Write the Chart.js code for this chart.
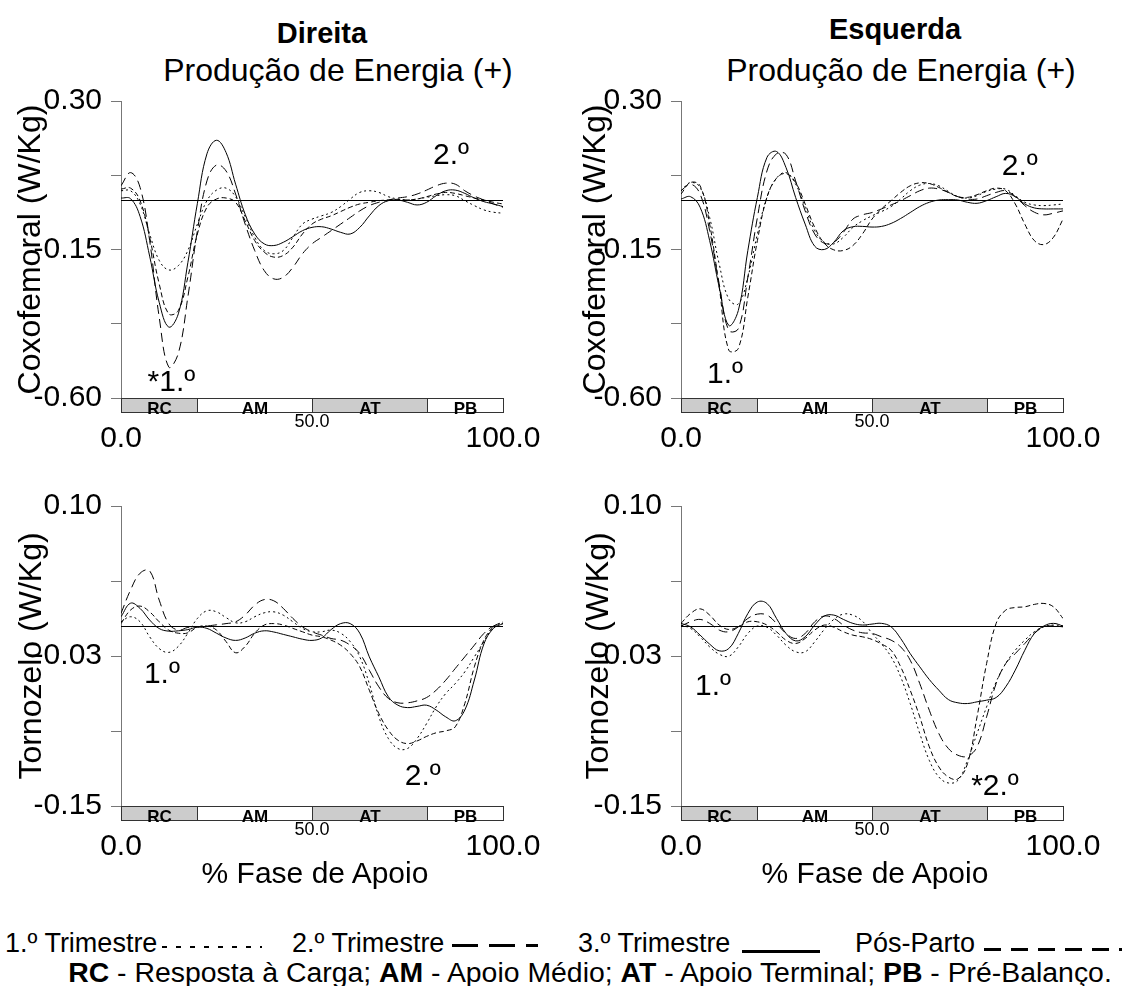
<!DOCTYPE html>
<html>
<head>
<meta charset="utf-8">
<script src="https://cdn.jsdelivr.net/npm/chart.js@4.4.1/dist/chart.umd.min.js"></script>
<style>
  body { margin: 0; background: #fff; }
  #page { position: relative; width: 1127px; height: 986px; overflow: hidden; font-family: 'Liberation Sans', Arial, sans-serif; color: #000; }
  .panel { position: absolute; }
  .txt { position: absolute; white-space: nowrap; line-height: 1; transform: translate(-50%, -50%); }
  .leg { position: absolute; white-space: nowrap; line-height: 1; transform: translateY(-50%); font-size: 27px; }
  .sample { position: absolute; }
</style>
</head>
<body>
<div id="page">
  <div class="txt" style="left:322px;top:33px;font-size:29px;font-weight:bold;">Direita</div>
  <div class="txt" style="left:895px;top:29px;font-size:29px;font-weight:bold;">Esquerda</div>
  <div class="txt" style="left:338px;top:70px;font-size:32px;">Produção de Energia (+)</div>
  <div class="txt" style="left:901px;top:70px;font-size:32px;">Produção de Energia (+)</div>

  <div class="panel" style="left:0;top:60px;"><canvas id="hipRight" width="560" height="400"></canvas></div>
  <div class="panel" style="left:560px;top:60px;"><canvas id="hipLeft" width="567" height="400"></canvas></div>
  <div class="panel" style="left:0;top:466px;"><canvas id="ankleRight" width="560" height="400"></canvas></div>
  <div class="panel" style="left:560px;top:466px;"><canvas id="ankleLeft" width="567" height="400"></canvas></div>

  <div class="txt" style="left:315px;top:873px;font-size:30px;">% Fase de Apoio</div>
  <div class="txt" style="left:875px;top:873px;font-size:30px;">% Fase de Apoio</div>

  <div class="leg" style="left:5px;top:943px;">1.º Trimestre</div>
  <div class="sample" style="left:162px;top:946px;width:100px;height:2px;background:repeating-linear-gradient(90deg,#000 0 5px,transparent 5px 14px);"></div>
  <div class="leg" style="left:292px;top:943px;">2.º Trimestre</div>
  <div class="sample" style="left:452px;top:944px;width:86px;height:3px;background:repeating-linear-gradient(90deg,#000 0 26px,transparent 26px 37px);"></div>
  <div class="leg" style="left:578px;top:943px;">3.º Trimestre</div>
  <div class="sample" style="left:742px;top:950px;width:78px;height:3px;background:#000;"></div>
  <div class="leg" style="left:855px;top:943px;">Pós-Parto</div>
  <div class="sample" style="left:984px;top:948px;width:138px;height:3px;background:repeating-linear-gradient(90deg,#000 0 17px,transparent 17px 27px);"></div>

  <div class="txt" style="left:590px;top:972px;font-size:28.4px;"><b>RC</b> - Resposta à Carga; <b>AM</b> - Apoio Médio; <b>AT</b> - Apoio Terminal; <b>PB</b> - Pré-Balanço.</div>
</div>

<script>
// % of stance phase
const stancePercent = [0, 2.5, 5, 7.5, 10, 12.5, 15, 17.5, 20, 22.5, 25, 27.5, 30, 32.5, 35, 37.5, 40, 42.5, 45, 47.5,
  50, 52.5, 55, 57.5, 60, 62.5, 65, 67.5, 70, 72.5, 75, 77.5, 80, 82.5, 85, 87.5, 90, 92.5, 95, 97.5, 100];

const seriesNames = ['1.º Trimestre', '2.º Trimestre', '3.º Trimestre', 'Pós-Parto'];

// hip (coxofemoral) power, right side
const hipRightT1 = [0.028, 0.028, -0.012, -0.103, -0.183, -0.212, -0.199, -0.153, -0.073, -0.002, 0.030, 0.036, 0.010, -0.050, -0.113, -0.153, -0.163, -0.153, -0.113, -0.073,
  -0.058, -0.048, -0.038, -0.020, 0.003, 0.023, 0.028, 0.023, 0.010, 0.003, 0.000, 0.003, 0.008, 0.013, 0.016, 0.013, -0.002, -0.017, -0.030, -0.037, -0.040];
const hipRightT2 = [0.043, 0.083, 0.038, -0.123, -0.355, -0.506, -0.465, -0.294, -0.093, 0.058, 0.106, 0.088, 0.018, -0.073, -0.153, -0.214, -0.239, -0.234, -0.204, -0.163,
  -0.133, -0.113, -0.093, -0.073, -0.053, -0.033, -0.017, -0.007, 0.000, 0.006, 0.010, 0.018, 0.030, 0.043, 0.051, 0.048, 0.028, 0.012, 0.000, -0.012, -0.022];
const hipRightT3 = [0.006, 0.004, -0.050, -0.170, -0.310, -0.385, -0.345, -0.190, -0.010, 0.140, 0.181, 0.144, 0.048, -0.043, -0.103, -0.133, -0.138, -0.128, -0.111, -0.093,
  -0.083, -0.081, -0.088, -0.098, -0.103, -0.083, -0.048, -0.017, -0.002, 0.000, -0.007, -0.015, -0.007, 0.013, 0.028, 0.030, 0.020, 0.006, -0.005, -0.012, -0.020];
const hipRightPP = [0.033, 0.036, -0.002, -0.113, -0.254, -0.345, -0.335, -0.234, -0.103, -0.022, 0.003, 0.006, -0.007, -0.063, -0.123, -0.158, -0.173, -0.168, -0.143, -0.103,
  -0.073, -0.058, -0.048, -0.035, -0.022, -0.012, -0.007, -0.002, 0.000, 0.002, 0.000, 0.003, 0.010, 0.018, 0.023, 0.020, 0.013, 0.006, 0.000, -0.007, -0.012];

// hip (coxofemoral) power, left side
const hipLeftT1 = [0.028, 0.053, 0.038, -0.053, -0.194, -0.300, -0.315, -0.234, -0.103, 0.008, 0.066, 0.083, 0.048, -0.022, -0.093, -0.128, -0.133, -0.113, -0.083, -0.063,
  -0.048, -0.035, -0.020, 0.003, 0.028, 0.045, 0.050, 0.043, 0.026, 0.010, 0.006, 0.013, 0.026, 0.033, 0.033, 0.013, -0.007, -0.015, -0.017, -0.015, -0.012];
const hipLeftT2 = [0.028, 0.048, 0.018, -0.093, -0.254, -0.395, -0.390, -0.234, -0.053, 0.088, 0.140, 0.138, 0.058, -0.033, -0.103, -0.131, -0.128, -0.098, -0.058, -0.045,
  -0.038, -0.027, -0.015, -0.002, 0.013, 0.028, 0.036, 0.033, 0.023, 0.010, 0.003, 0.003, 0.013, 0.023, 0.028, 0.010, -0.017, -0.037, -0.045, -0.040, -0.033];
const hipLeftT3 = [0.003, 0.010, -0.022, -0.123, -0.264, -0.380, -0.335, -0.153, 0.008, 0.129, 0.147, 0.098, 0.008, -0.073, -0.140, -0.150, -0.128, -0.093, -0.081, -0.080,
  -0.082, -0.080, -0.071, -0.056, -0.038, -0.020, -0.007, 0.000, 0.001, 0.000, -0.007, -0.010, -0.002, 0.010, 0.020, 0.010, -0.012, -0.024, -0.027, -0.027, -0.027];
const hipLeftPP = [0.018, 0.053, 0.043, -0.073, -0.264, -0.455, -0.450, -0.294, -0.123, 0.008, 0.066, 0.080, 0.053, -0.012, -0.083, -0.131, -0.151, -0.153, -0.138, -0.103,
  -0.058, -0.027, -0.002, 0.023, 0.043, 0.052, 0.050, 0.038, 0.023, 0.010, 0.008, 0.016, 0.028, 0.036, 0.028, -0.012, -0.073, -0.123, -0.135, -0.113, -0.058];

// ankle (tornozelo) power, right side
const ankleRightT1 = [0.0035, 0.0077, 0.0035, -0.009, -0.0188, -0.022, -0.017, -0.006, 0.0063, 0.0127, 0.0118, 0.007, 0.0027, 0.0035, 0.0077, 0.011, 0.0118, 0.009, 0.0035, -0.002,
  -0.0048, -0.0048, -0.0034, -0.006, -0.013, -0.0257, -0.048, -0.0757, -0.0938, -0.1021, -0.1021, -0.0938, -0.0813, -0.0674, -0.0563, -0.048, -0.0382, -0.0257, -0.013, -0.0007, 0.0027];
const ankleRightT2 = [0.0105, 0.030, 0.044, 0.046, 0.0216, 0.002, -0.0034, -0.0012, -0.0006, 0.000, 0.001, 0.002, 0.0035, 0.0091, 0.0174, 0.022, 0.021, 0.0146, 0.0063, -0.0006,
  -0.0048, -0.0076, -0.0104, -0.0118, -0.016, -0.023, -0.0368, -0.0507, -0.0604, -0.064, -0.064, -0.0624, -0.0596, -0.0535, -0.0452, -0.0354, -0.0257, -0.016, -0.0062, 0.000, 0.002];
const ankleRightT3 = [0.0077, 0.019, 0.0146, 0.005, -0.0021, -0.0043, -0.004, -0.003, -0.001, -0.002, -0.006, -0.010, -0.012, -0.010, -0.006, -0.004, -0.005, -0.007, -0.009, -0.011,
  -0.012, -0.010, -0.003, 0.002, 0.002, -0.006, -0.0257, -0.0424, -0.059, -0.066, -0.068, -0.067, -0.066, -0.070, -0.0757, -0.079, -0.070, -0.045, -0.015, -0.002, 0.002];
const ankleRightPP = [0.002, 0.0133, 0.0166, 0.0118, 0.0035, -0.0034, -0.006, -0.0057, -0.001, 0.000, -0.0034, -0.013, -0.0223, -0.017, -0.006, 0.0008, 0.002, 0.0008, -0.002, -0.0048,
  -0.0076, -0.009, -0.0118, -0.016, -0.023, -0.034, -0.0535, -0.073, -0.0868, -0.0952, -0.098, -0.0958, -0.092, -0.089, -0.0874, -0.084, -0.0646, -0.034, -0.0118, -0.0007, 0.0035];

// ankle (tornozelo) power, left side
const ankleLeftT1 = [0.0008, -0.002, -0.009, -0.0174, -0.0235, -0.0252, -0.0174, -0.0062, 0.000, -0.001, -0.0076, -0.016, -0.0215, -0.0215, -0.0132, -0.0029, 0.0055, 0.0099, 0.009, 0.004,
  -0.006, -0.015, -0.0257, -0.0424, -0.0646, -0.0896, -0.112, -0.1258, -0.1308, -0.1286, -0.112, -0.0896, -0.0674, -0.0466, -0.0313, -0.0202, -0.0118, -0.0048, -0.0007, 0.0008, 0.000];
const ankleLeftT2 = [0.000, 0.0035, 0.0055, 0.0022, -0.0034, -0.0048, -0.0007, 0.0063, 0.0099, 0.0091, 0.0022, -0.0062, -0.0104, -0.0062, 0.0035, 0.0083, 0.0063, 0.0008, -0.0034, -0.0057,
  -0.0062, -0.009, -0.0118, -0.0174, -0.0285, -0.048, -0.0702, -0.0896, -0.1021, -0.1077, -0.1085, -0.1007, -0.0757, -0.048, -0.0313, -0.023, -0.0146, -0.0062, -0.0007, 0.000, -0.0007];
const ankleLeftT3 = [0.0022, -0.0007, -0.0076, -0.0151, -0.0207, -0.0188, -0.0062, 0.0104, 0.020, 0.0188, 0.0063, -0.0062, -0.0124, -0.009, 0.0008, 0.0083, 0.0091, 0.0055, 0.0022, 0.0008,
  0.0016, 0.0022, -0.0007, -0.0104, -0.023, -0.034, -0.0446, -0.0535, -0.0613, -0.064, -0.0646, -0.0632, -0.0618, -0.0596, -0.0507, -0.0368, -0.0202, -0.0062, 0.000, 0.0022, 0.000];
const ankleLeftPP = [0.0022, 0.0104, 0.0143, 0.0091, 0.0008, -0.0029, -0.0007, 0.0035, 0.0035, 0.0008, -0.0048, -0.0118, -0.0146, -0.0104, -0.0034, 0.0008, -0.001, -0.0048, -0.0076, -0.009,
  -0.0112, -0.015, -0.0202, -0.034, -0.0535, -0.0757, -0.1007, -0.1174, -0.1258, -0.1274, -0.1147, -0.0757, -0.0313, 0.0022, 0.0132, 0.0154, 0.016, 0.018, 0.0188, 0.016, 0.0063];

// axis ticks
const hipTicks = [-0.60, -0.375, -0.15, 0.075, 0.30];
const hipTickLabels = ['-0.60', '', '-0.15', '', '0.30'];
const ankleTicks = [-0.15, -0.0875, -0.025, 0.0375, 0.10];
const ankleTickLabels = ['-0.15', '', '-0.03', '', '0.10'];
const xTickValues = [0, 50, 100];
const xTickLabels = ['0.0', '50.0', '100.0'];

// gait sub-phases under each plot
const phaseNames = ['RC', 'AM', 'AT', 'PB'];
const phaseEdges = [0, 20, 50, 80, 100];

const FONT = "'Liberation Sans', Arial, sans-serif";
const lineDash = [[2, 3], [9, 5], [], [5, 3]];

const gaitPlugin = {
  id: 'gait',
  beforeDatasetsDraw(chart) {
    const { ctx, chartArea, scales } = chart;
    const y0 = Math.round(scales.y.getPixelForValue(0)) + 0.5;
    ctx.save();
    ctx.strokeStyle = '#000';
    ctx.lineWidth = 1;
    ctx.beginPath();
    ctx.moveTo(chartArea.left, y0);
    ctx.lineTo(chartArea.right, y0);
    ctx.stroke();
    ctx.restore();
  },
  afterDraw(chart, args, opts) {
    const { ctx, chartArea, scales } = chart;
    const x = scales.x;
    const y = scales.y;
    const barTop = Math.round(chartArea.bottom) + 0.5;
    const barH = 14;
    ctx.save();
    ctx.lineWidth = 1;
    phaseNames.forEach((name, i) => {
      const x0 = Math.round(x.getPixelForValue(phaseEdges[i])) + 0.5;
      const x1 = Math.round(x.getPixelForValue(phaseEdges[i + 1])) + 0.5;
      ctx.fillStyle = i % 2 === 0 ? '#cccccc' : '#ffffff';
      ctx.fillRect(x0, barTop, x1 - x0, barH);
      ctx.strokeStyle = '#333';
      ctx.strokeRect(x0, barTop, x1 - x0, barH);
      ctx.fillStyle = '#000';
      ctx.font = 'bold 17px ' + FONT;
      ctx.textAlign = 'center';
      ctx.textBaseline = 'alphabetic';
      ctx.fillText(name, (x0 + x1) / 2, barTop + barH + 1);
    });

    ctx.textAlign = 'center';
    ctx.textBaseline = 'middle';
    xTickValues.forEach((v, i) => {
      const small = v === 50;
      ctx.font = (small ? '18px ' : '30px ') + FONT;
      ctx.fillText(xTickLabels[i], x.getPixelForValue(v), chartArea.bottom + (small ? 24 : 41));
    });

    ctx.font = '30px ' + FONT;
    opts.notes.forEach(n => {
      ctx.fillText(n.text, x.getPixelForValue(n.x), y.getPixelForValue(n.y));
    });
    ctx.restore();
  }
};

function makePanel(id, series, cfg) {
  new Chart(document.getElementById(id), {
    type: 'line',
    data: {
      datasets: series.map((values, i) => ({
        label: seriesNames[i],
        data: stancePercent.map((p, k) => ({ x: p, y: values[k] })),
        borderColor: '#000',
        borderWidth: 1,
        borderDash: lineDash[i],
        pointRadius: 0,
        tension: 0.4,
        fill: false
      }))
    },
    options: {
      responsive: false,
      animation: false,
      devicePixelRatio: 1,
      layout: { padding: { left: 0, right: cfg.padRight, top: cfg.padTop, bottom: cfg.padBottom } },
      plugins: {
        legend: { display: false },
        tooltip: { enabled: false },
        gait: { notes: cfg.notes }
      },
      scales: {
        x: { type: 'linear', min: 0, max: 100, display: false },
        y: {
          min: cfg.ticks[0],
          max: cfg.ticks[cfg.ticks.length - 1],
          afterBuildTicks: s => { s.ticks = cfg.ticks.map(v => ({ value: v })); },
          afterFit: s => { s.width = 121; },
          ticks: {
            autoSkip: false,
            padding: 9,
            color: '#000',
            font: { family: FONT, size: 30 },
            callback: (v, i) => cfg.tickLabels[i]
          },
          grid: { drawOnChartArea: false, tickLength: 10, color: '#777' },
          border: { color: '#777' },
          title: {
            display: true,
            text: cfg.title,
            color: '#000',
            font: { family: FONT, size: 32 },
            padding: { top: cfg.titlePad, bottom: 0 }
          }
        }
      }
    },
    plugins: [gaitPlugin]
  });
}

makePanel('hipRight', [hipRightT1, hipRightT2, hipRightT3, hipRightPP], {
  ticks: hipTicks, tickLabels: hipTickLabels, title: 'Coxofemoral (W/Kg)', titlePad: 12,
  padTop: 41, padBottom: 62, padRight: 57,
  notes: [{ text: '*1.º', x: 13.2, y: -0.555 }, { text: '2.º', x: 86.4, y: 0.135 }]
});
makePanel('hipLeft', [hipLeftT1, hipLeftT2, hipLeftT3, hipLeftPP], {
  ticks: hipTicks, tickLabels: hipTickLabels, title: 'Coxofemoral (W/Kg)', titlePad: 17,
  padTop: 41, padBottom: 62, padRight: 64,
  notes: [{ text: '1.º', x: 11.5, y: -0.53 }, { text: '2.º', x: 88.7, y: 0.10 }]
});
makePanel('ankleRight', [ankleRightT1, ankleRightT2, ankleRightT3, ankleRightPP], {
  ticks: ankleTicks, tickLabels: ankleTickLabels, title: 'Tornozelo (W/Kg)', titlePad: 13,
  padTop: 40, padBottom: 60, padRight: 57,
  notes: [{ text: '1.º', x: 10.7, y: -0.041 }, { text: '2.º', x: 79, y: -0.126 }]
});
makePanel('ankleLeft', [ankleLeftT1, ankleLeftT2, ankleLeftT3, ankleLeftPP], {
  ticks: ankleTicks, tickLabels: ankleTickLabels, title: 'Tornozelo (W/Kg)', titlePad: 20,
  padTop: 40, padBottom: 60, padRight: 64,
  notes: [{ text: '1.º', x: 8.4, y: -0.051 }, { text: '*2.º', x: 82.2, y: -0.134 }]
});
</script>
</body>
</html>
